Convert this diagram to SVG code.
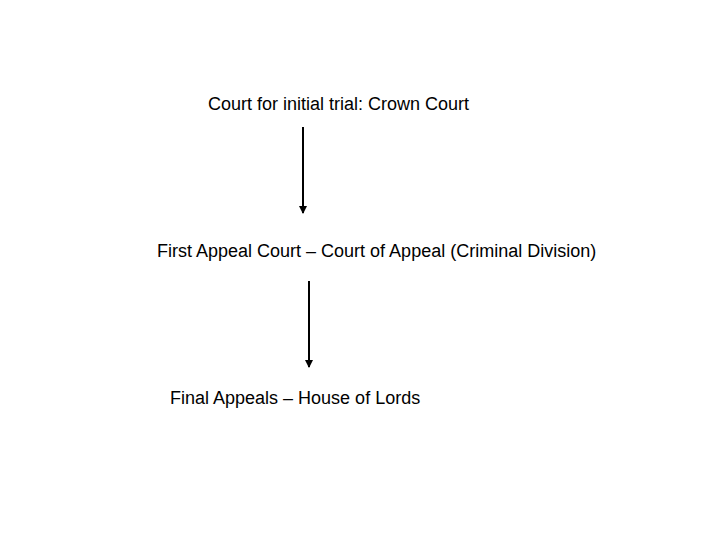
<svg xmlns="http://www.w3.org/2000/svg" width="720" height="540" viewBox="0 0 720 540">
<style>
text{font-family:"Liberation Sans",Arial,sans-serif;font-size:18px;fill:#000}
.c{stroke:#000;stroke-width:2;fill:none}
</style>
<defs>
<marker id="ah" markerWidth="8" markerHeight="8" refX="7" refY="4" orient="auto" markerUnits="userSpaceOnUse" viewBox="0 0 8 8">
<path d="M0,0 L8,4 L0,8 Z" fill="#000"/>
</marker>
</defs>
<rect width="720" height="540" fill="#fff"/>
<g id="n1"><text x="208" y="110">Court for initial trial: Crown Court</text></g>
<g id="n2"><text x="157" y="257">First Appeal Court – Court of Appeal (Criminal Division)</text></g>
<g id="n3"><text x="170" y="404">Final Appeals – House of Lords</text></g>
<g id="connectors">
<path class="c" d="M303,127 V213" marker-end="url(#ah)"/>
<path class="c" d="M309,281 V367" marker-end="url(#ah)"/>
</g>
</svg>
